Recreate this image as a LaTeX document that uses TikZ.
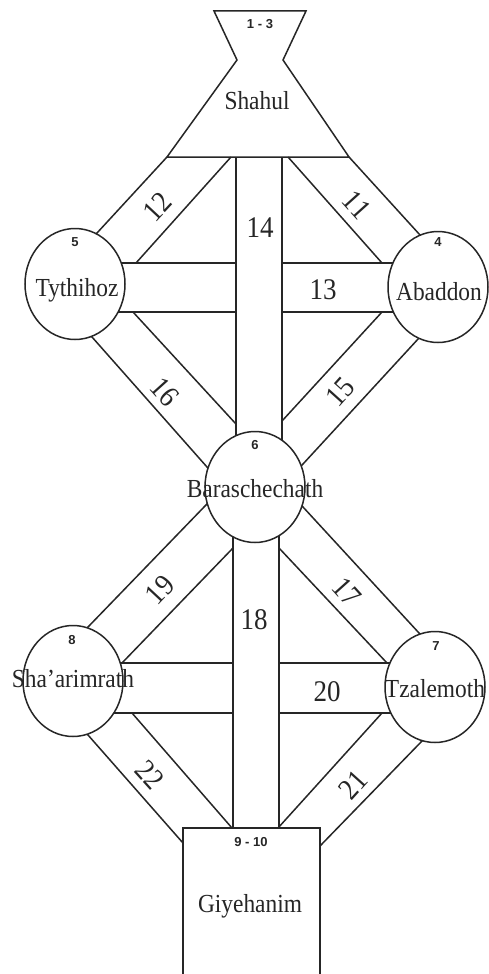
\documentclass[tikz,border=0pt]{standalone}
\usepackage{fontspec}
\setmainfont{Liberation Serif}
\newfontfamily\namefont[FakeStretch=0.9]{Liberation Serif}
\newfontfamily\smallfont{Liberation Sans}
\usetikzlibrary{shapes.geometric,calc}
\definecolor{ink}{HTML}{262626}
\tikzset{
  band/.style={line width=1.5pt, draw=ink},
  sefira/.style={ellipse, draw=ink, line width=1.5pt, fill=white, inner sep=0pt, minimum width=100pt, minimum height=111pt},
  sname/.style={font=\namefont\fontsize{26}{26}\selectfont, text=ink, inner sep=0pt},
  pathnum/.style={font=\namefont\fontsize{30}{30}\selectfont, text=ink, inner sep=0pt},
  idx/.style={font=\smallfont\bfseries\fontsize{13}{13}\selectfont, text=ink, inner sep=0pt},
}
\begin{document}
\begin{tikzpicture}[x=1pt,y=-1pt]
\useasboundingbox[fill=white] (0,0) rectangle (488,974);

% ---------- bands (drawn first; circles cover their ends) ----------
% Shahul
\draw[band, fill=white] (214,11) -- (306,11) -- (283,60) -- (349,157) -- (167,157) -- (237,60) -- cycle;
% 14
\draw[band] (236,157) -- (236,470);
\draw[band] (282,157) -- (282,470);
% 12
\draw[band] (167,157) -- ($(97,233)!-12pt!(167,157)$);
\draw[band] (231,157) -- (136,263);
% 11
\draw[band] (349,157) -- ($(420,235)!-12pt!(349,157)$);
\draw[band] (288,157) -- (382,263);
% 13
\draw[band] (75,263) -- (236,263);
\draw[band] (75,312) -- (236,312);
\draw[band] (282,263) -- (438,263);
\draw[band] (282,312) -- (438,312);
% 16
\draw[band] ($(92,337)!-12pt!(207,467)$) -- ($(207,467)!-12pt!(92,337)$);
\draw[band] (133,312) -- (236,424);
% 15
\draw[band] ($(419,338)!-12pt!(303,464)$) -- ($(303,464)!-12pt!(419,338)$);
\draw[band] (382,312) -- (282,421);
% 18
\draw[band] (233,500) -- (233,828);
\draw[band] (279,500) -- (279,828);
% 19
\draw[band] ($(205,506)!-12pt!(88,627)$) -- ($(88,627)!-12pt!(205,506)$);
\draw[band] (233,548) -- (122,663);
% 17
\draw[band] ($(303,507)!-12pt!(419,633)$) -- ($(419,633)!-12pt!(303,507)$);
\draw[band] (279,548) -- (387,663);
% 20
\draw[band] (73,663) -- (233,663);
\draw[band] (73,713) -- (233,713);
\draw[band] (279,663) -- (435,663);
\draw[band] (279,713) -- (435,713);
% 22
\draw[band] ($(88,735)!-12pt!(183,843)$) -- (183,843);
\draw[band] (132,713) -- (232,828);
% 21
\draw[band] ($(422,741)!-12pt!(320,846)$) -- (320,846);
\draw[band] (382,713) -- (278,828);

% ---------- spheres ----------
\node[sefira] (tyt) at (75,284) {};
\node[sefira] (aba) at (438,287) {};
\node[sefira] (bar) at (255,487) {};
\node[sefira] (sha) at (73,681) {};
\node[sefira] (tza) at (435,687) {};
\draw[band, fill=white] (183,980) -- (183,828) -- (320,828) -- (320,980);

% ---------- names ----------
\node[sname, anchor=base] (tShahul) at (257,109) {Shahul};
\node[sname, anchor=base] (tTyt) at (77,296) {Tythihoz};
\node[sname, anchor=base] (tAba) at (439,300) {Abaddon};
\node[sname, anchor=base] (tBar) at (255,497) {Baraschechath};
\node[sname, anchor=base] (tSha) at (73,687) {Sha’arimrath};
\node[sname, anchor=base] (tTza) at (435,697) {Tzalemoth};
\node[sname, anchor=base] (tGiy) at (250,912) {Giyehanim};

% ---------- sphere numbers ----------
\node[idx] (n13) at (260,24) {1 - 3};
\node[idx] (n5) at (75,242) {5};
\node[idx] (n4) at (438,242) {4};
\node[idx] (n6) at (255,445) {6};
\node[idx] (n8) at (72,640) {8};
\node[idx] (n7) at (436,646) {7};
\node[idx] (n910) at (251,842) {9 - 10};

% ---------- path numbers ----------
\node[pathnum, rotate=47] (p12) at (157,207) {12};
\node[pathnum, rotate=-48] (p11) at (357,205) {11};
\node[pathnum] (p14) at (260,228) {14};
\node[pathnum] (p13) at (323,290) {13};
\node[pathnum, rotate=-48] (p16) at (165,392) {16};
\node[pathnum, rotate=48] (p15) at (340,392) {15};
\node[pathnum, rotate=47] (p19) at (160,590) {19};
\node[pathnum, rotate=-48] (p17) at (347,592) {17};
\node[pathnum] (p18) at (254,620) {18};
\node[pathnum] (p20) at (327,692) {20};
\node[pathnum, rotate=-48] (p22) at (150,775) {22};
\node[pathnum, rotate=48] (p21) at (353,785) {21};
\end{tikzpicture}
\end{document}
